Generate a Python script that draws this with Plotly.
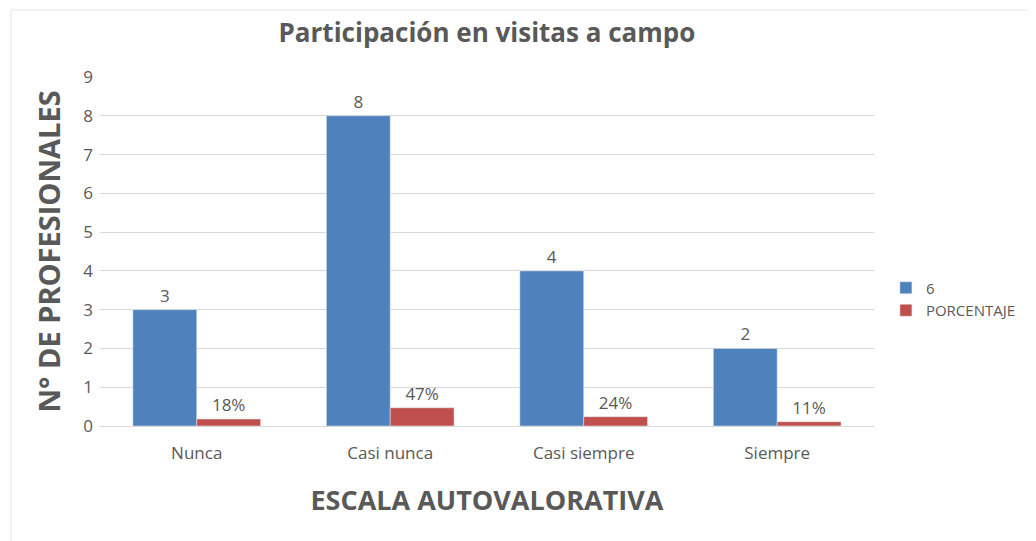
import plotly.graph_objects as go

categories = ["Nunca", "Casi nunca", "Casi siempre", "Siempre"]
serie_6 = [3, 8, 4, 2]
porcentaje = [0.18, 0.47, 0.24, 0.11]
porcentaje_labels = ["18%", "47%", "24%", "11%"]

font_family = "Open Sans, Noto Sans, sans-serif"
text_color = "#595959"

fig = go.Figure()
fig.add_trace(go.Bar(
    x=categories, y=serie_6, name="6",
    marker=dict(color="#4F81BD"),
    text=[str(v) for v in serie_6], textposition="outside",
    textfont=dict(size=17, color=text_color, family=font_family),
    cliponaxis=False,
))
fig.add_trace(go.Bar(
    x=categories, y=porcentaje, name="PORCENTAJE",
    marker=dict(color="#C0504D"),
    text=porcentaje_labels, textposition="outside",
    textfont=dict(size=17, color=text_color, family=font_family),
    cliponaxis=False,
))

fig.update_layout(
    width=1028, height=533,
    margin=dict(l=92, r=154, t=69, b=115),
    paper_bgcolor="white", plot_bgcolor="white",
    barmode="group", bargap=0.34, bargroupgap=0,
    font=dict(family=font_family, color=text_color, size=17),
    title=dict(text="<b>Participación en visitas a campo</b>", x=0.5, xanchor="center",
               xref="paper", y=0.953, yanchor="middle",
               font=dict(size=26, color=text_color, family=font_family)),
    xaxis=dict(
        title=dict(text="<b>ESCALA AUTOVALORATIVA</b>", font=dict(size=27, color=text_color), standoff=27),
        showline=True, linecolor="#D9D9D9", linewidth=1,
        tickfont=dict(size=17, color=text_color), ticks="", ticklabelstandoff=12,
    ),
    yaxis=dict(
        title=dict(text="<b>N° DE PROFESIONALES</b>", font=dict(size=29, color=text_color), standoff=14),
        range=[0, 9], dtick=1, showgrid=True, gridcolor="#D9D9D9", gridwidth=1,
        zeroline=False, tickfont=dict(size=17, color=text_color), ticks="", ticklabelstandoff=6,
    ),
    legend=dict(xref="container", yref="container", x=0.854, xanchor="left",
                y=0.454, yanchor="middle",
                font=dict(size=15, color=text_color), tracegroupgap=2, itemwidth=30),
    shapes=[
        dict(type="line", xref="paper", yref="paper", x0=-0.115, x1=1.2, y0=1.192, y1=1.192,
             line=dict(color="#E6E6E6", width=1)),
        dict(type="line", xref="paper", yref="paper", x0=-0.115, x1=-0.115, y0=-0.35, y1=1.192,
             line=dict(color="#E6E6E6", width=1)),
    ],
)

fig.write_html("out.html")
